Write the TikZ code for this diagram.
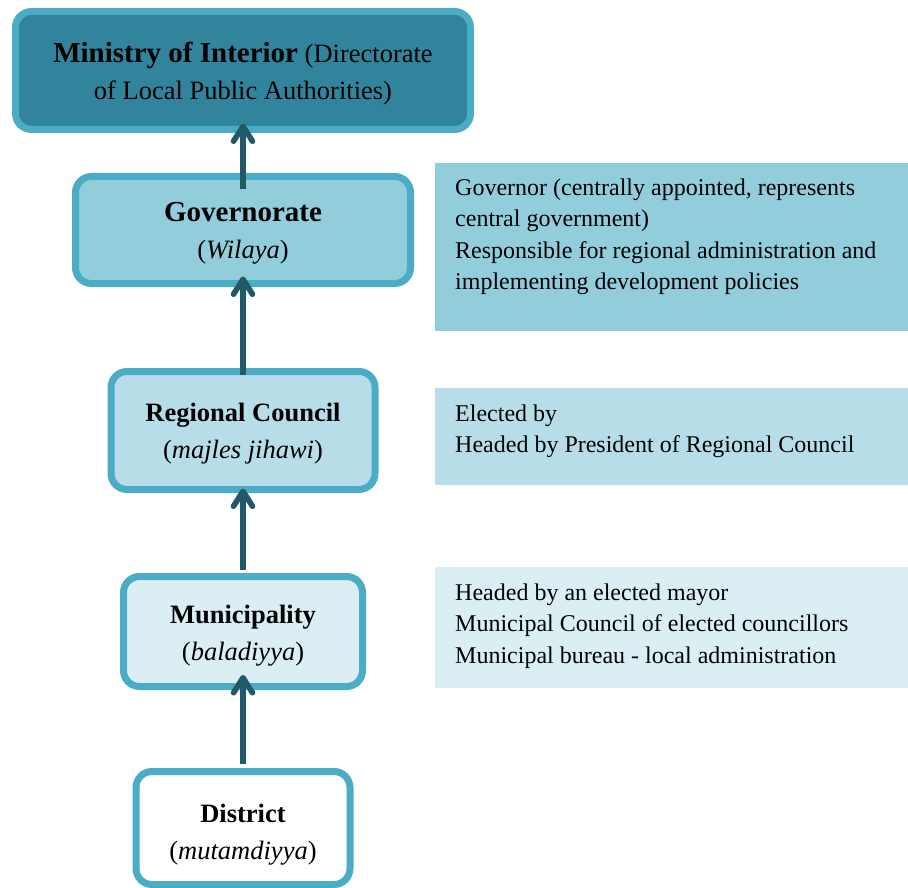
\documentclass[tikz,border=0pt]{standalone}
\usepackage{fontspec}
\setmainfont{Liberation Serif}
\usetikzlibrary{arrows.meta}
\definecolor{bordc}{HTML}{4BACC6}
\definecolor{cmin}{HTML}{31849B}
\definecolor{cgov}{HTML}{92CDDC}
\definecolor{creg}{HTML}{B7DEE8}
\definecolor{cmun}{HTML}{DAEEF3}
\definecolor{arrc}{HTML}{215968}
\begin{document}
\begin{tikzpicture}[x=1pt,y=-1pt,
  lvl/.style={draw=bordc, line width=7pt, rounded corners=16pt, inner sep=0pt,
    align=center, font=\fontsize{26.5}{37}\selectfont},
  descbox/.style={inner sep=0pt, outer sep=0pt, anchor=north west, minimum width=473pt},
  desc/.style={inner sep=0pt, anchor=north west, align=left, font=\fontsize{24}{31.5}\selectfont},
  upar/.style={arrc, line width=5.5pt, line cap=butt,
    -{Straight Barb[length=15pt,width=19pt,line cap=round,line join=round]}},
  shad/.style={black!30, line width=5.5pt, line cap=butt, xshift=-0.8pt, yshift=-2.5pt,
    -{Straight Barb[length=15pt,width=19pt,line cap=round,line join=round]}},
]
\useasboundingbox (0,0) rectangle (908,888);

% hierarchy boxes
\node[lvl, fill=cmin, minimum width=455pt, minimum height=118pt] (min) at (243,70.5)
  {\rule{0pt}{26pt}{\fontsize{29}{37}\selectfont\bfseries Ministry of Interior} (Directorate\\of Local Public Authorities)};
\node[lvl, fill=cgov, minimum width=335pt, minimum height=107pt] (gov) at (243,230)
  {\rule{0pt}{26pt}{\fontsize{29}{37}\selectfont\bfseries Governorate}\\(\textit{Wilaya})};
\node[lvl, fill=creg, minimum width=264pt, minimum height=118pt] (reg) at (243,430.5)
  {\rule{0pt}{25.5pt}\textbf{Regional Council}\\(\textit{majles jihawi})};
\node[lvl, fill=cmun, minimum width=239pt, minimum height=110pt] (mun) at (243,631.5)
  {\rule{0pt}{27.5pt}\textbf{Municipality}\\(\textit{baladiyya})};
\node[lvl, fill=white, minimum width=214pt, minimum height=113pt] (dis) at (243,828)
  {\rule{0pt}{31.5pt}\textbf{District}\\(\textit{mutamdiyya})};

% arrows
\draw[shad] ([yshift=-16pt]gov.north) -- ([yshift=9.5pt]min.south);
\draw[upar] ([yshift=-16pt]gov.north) -- ([yshift=9.5pt]min.south);
\draw[shad] ([yshift=-6.5pt]reg.north) -- ([yshift=10.5pt]gov.south);
\draw[upar] ([yshift=-6.5pt]reg.north) -- ([yshift=10.5pt]gov.south);
\draw[shad] ([yshift=3.5pt]mun.north) -- ([yshift=4.5pt]reg.south);
\draw[upar] ([yshift=3.5pt]mun.north) -- ([yshift=4.5pt]reg.south);
\draw[shad] ([yshift=4.5pt]dis.north) -- ([yshift=15pt]mun.south);
\draw[upar] ([yshift=4.5pt]dis.north) -- ([yshift=15pt]mun.south);

% description boxes
\node[descbox, fill=cgov, minimum height=168pt] (d1) at (435,163) {};
\node[desc] (t1) at ([xshift=20pt,yshift=-10pt]d1.north west)
  {\strut Governor (centrally appointed, represents\\central government)\\Responsible for regional administration and\\implementing development policies};
\node[descbox, fill=creg, minimum height=97pt] (d2) at (435,388) {};
\node[desc] (t2) at ([xshift=20pt,yshift=-11pt]d2.north west)
  {\strut Elected by\\Headed by President of Regional Council};
\node[descbox, fill=cmun, minimum height=121pt] (d3) at (435,567) {};
\node[desc] (t3) at ([xshift=20pt,yshift=-11pt]d3.north west)
  {\strut Headed by an elected mayor\\Municipal Council of elected councillors\\Municipal bureau - local administration};
\end{tikzpicture}
\end{document}
